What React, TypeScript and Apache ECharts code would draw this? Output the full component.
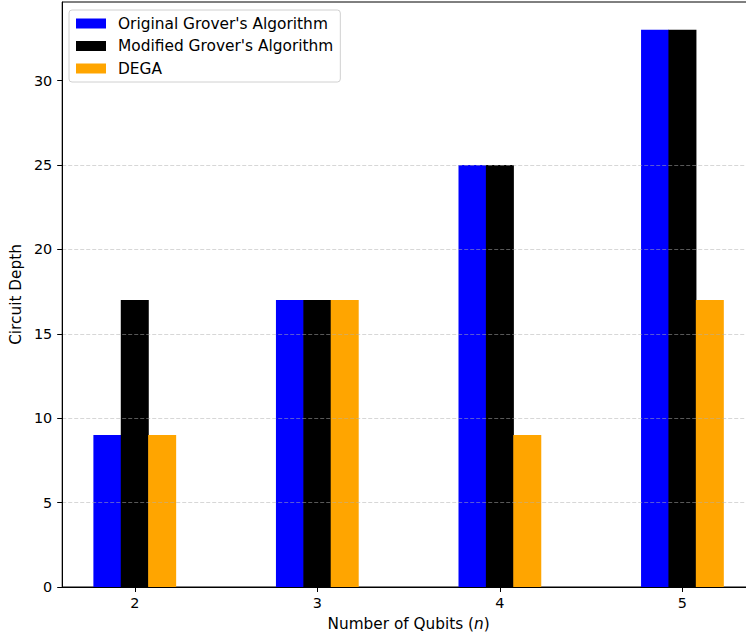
import React, { useEffect, useRef } from "react";
import * as echarts from "echarts";

const qubits = [2, 3, 4, 5];
const originalGrover = [9, 17, 25, 33];
const modifiedGrover = [17, 17, 25, 33];
const dega = [9, 17, 9, 17];
const seriesNames = ["Original Grover's Algorithm", "Modified Grover's Algorithm", "DEGA"];
const seriesColors = ["#0000ff", "#000000", "#ffa500"];
const yTicks = [0, 5, 10, 15, 20, 25, 30];

const BAR_W = 0.15;
const FONT = "'DejaVu Sans', sans-serif";

export default function App() {
  const ref = useRef<HTMLDivElement>(null);
  useEffect(() => {
    if (!ref.current) return;
    const chart = echarts.init(ref.current, undefined, { renderer: "svg" });
    const allSeries = [originalGrover, modifiedGrover, dega];
    const offsets = [-BAR_W, 0, BAR_W];
    const xMin = 2 - 1.5 * BAR_W - 0.05 * (3 + 3 * BAR_W);
    const xMax = 5 + 1.5 * BAR_W + 0.05 * (3 + 3 * BAR_W);
    chart.setOption({
      animation: false,
      textStyle: { fontFamily: FONT },
      grid: {
        left: 62,
        top: 2,
        right: 5,
        bottom: 51,
        show: true,
        borderColor: "#000",
        borderWidth: 1,
        backgroundColor: "transparent",
      },
      legend: {
        left: 69,
        top: 10,
        orient: "vertical",
        icon: "rect",
        itemWidth: 30,
        itemHeight: 10,
        itemGap: 5.5,
        padding: [5, 7, 5, 7],
        borderColor: "#d0d0d0",
        borderWidth: 1,
        borderRadius: 3,
        backgroundColor: "rgba(255,255,255,0.8)",
        textStyle: { fontFamily: FONT, fontSize: 15.4, color: "#000", lineHeight: 17, padding: [0, 0, 0, 7] },
        data: seriesNames,
      },
      xAxis: {
        type: "value",
        min: xMin,
        max: xMax,
        name: "Number of Qubits ({i|n})",
        nameLocation: "middle",
        nameGap: 29,
        nameTextStyle: {
          fontFamily: FONT,
          fontSize: 15.3,
          color: "#000",
          rich: { i: { fontFamily: FONT, fontSize: 15.3, fontStyle: "italic", color: "#000" } },
        },
        splitLine: { show: false },
        axisLine: { show: true, lineStyle: { color: "#000", width: 1 } },
        axisTick: { show: true, customValues: qubits, length: 5, lineStyle: { color: "#000", width: 1 } },
        axisLabel: {
          customValues: qubits,
          fontFamily: FONT,
          fontSize: 14.4,
          color: "#000",
          margin: 9,
          formatter: (v: number) => String(Math.round(v)),
        },
      },
      yAxis: {
        type: "value",
        min: 0,
        max: 34.65,
        interval: 5,
        z: 10,
        name: "Circuit Depth",
        nameLocation: "middle",
        nameGap: 36,
        nameTextStyle: { fontFamily: FONT, fontSize: 15.3, color: "#000" },
        axisLine: { show: true, lineStyle: { color: "#000", width: 1 } },
        axisTick: { show: true, customValues: yTicks, length: 5, lineStyle: { color: "#000", width: 1 } },
        axisLabel: {
          customValues: yTicks,
          fontFamily: FONT,
          fontSize: 14.4,
          color: "#000",
          margin: 10,
        },
        splitLine: {
          show: true,
          showMinLine: false,
          showMaxLine: false,
          lineStyle: { color: "rgba(176,176,176,0.5)", type: [4, 2], width: 1 },
        },
      },
      series: allSeries.map((vals, si) => ({
        type: "bar",
        name: seriesNames[si],
        barWidth: 28,
        barGap: "-100%",
        itemStyle: { color: seriesColors[si] },
        data: vals.map((v, i) => [qubits[i] + offsets[si], v]),
      })),
    });
    return () => chart.dispose();
  }, []);
  return (
    <div style={{ position: "fixed", left: 0, top: 0, width: 746, height: 638, overflow: "hidden", background: "#fff" }}>
      <div ref={ref} style={{ width: 760, height: 638 }} />
    </div>
  );
}
